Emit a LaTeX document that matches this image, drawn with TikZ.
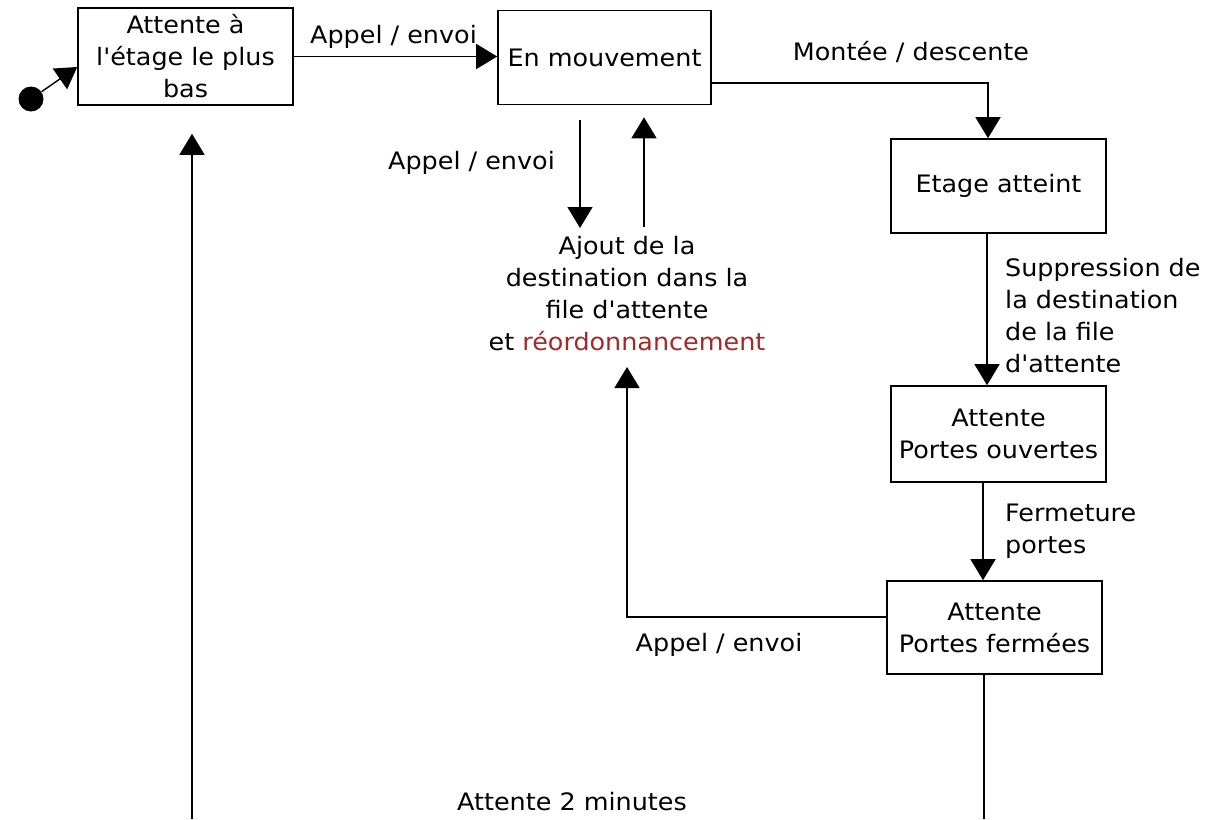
\documentclass[tikz,border=0pt]{standalone}
\usepackage{fontspec}
\newfontfamily\diagfont{DejaVu Sans}[FakeStretch=1.06]
\usetikzlibrary{arrows.meta,calc}
\definecolor{reorder}{RGB}{165,40,40}
\begin{document}
\begin{tikzpicture}[x=1pt,y=-1pt,
  every node/.style={font=\diagfont\fontsize{24}{32}\selectfont, inner sep=0pt},
  state/.style={draw, line width=1.6pt, align=center},
  arr/.style={line width=1.4pt, -{Triangle[length=21pt,width=25pt]}},
  link/.style={line width=1.4pt}
]
\fill[white] (0,0) rectangle (1214,819);
\useasboundingbox (0,0) rectangle (1214,819);

% states
\node[circle, fill=black, minimum size=25pt] (init) at (31,99) {};
\node[state, minimum width=215pt, minimum height=97pt] (b1) at (185.5,56.5) {Attente à\\l'étage le plus\\bas};
\node[state, minimum width=213pt, minimum height=94pt] (mv) at (604.5,57.5) {En mouvement};
\node[state, minimum width=215pt, minimum height=94pt] (ea) at (998.5,186) {Etage atteint};
\node[state, minimum width=215pt, minimum height=96pt] (po) at (998.5,434) {Attente\\Portes ouvertes};
\node[state, minimum width=215pt, minimum height=93pt] (pf) at (994.5,627.5) {Attente\\Portes fermées};
\node[align=center] (aj) at (627,293.5) {Ajout de la\\destination dans la\\file d'attente\\et \textcolor{reorder}{réordonnancement}};

% transition labels
\node (l1) at (393.5,37) {Appel / envoi};
\node (l2) at (911,52) {Montée / descente};
\node (l3) at (471.5,163) {Appel / envoi};
\node[align=left, anchor=west] (l4) at (1005,315.5) {Suppression de\\la destination\\de la file\\d'attente};
\node[align=left, anchor=west] (l5) at (1005,531.5) {Fermeture\\portes};
\node (l6) at (719,645) {Appel / envoi};
\node (l7) at (572,802) {Attente 2 minutes};

% loose ends at the lower edge
\coordinate (bl) at (192,819);
\coordinate (br) at (984,819);

% transitions
\draw[arr] (init) -- ([yshift=-10.5pt]b1.west);
\draw[arr] (b1.east) -- (b1.east -| mv.west);
\draw[arr] ([yshift=-25.5pt]mv.east) -| ([xshift=-10.5pt]ea.north);
\draw[arr] ($(mv.south)+(-24.5,15)$) -- ($(aj.center)+(-47,-65.5)$);
\draw[arr] ($(aj.center)+(17,-66.5)$) -- ($(mv.south)+(39.5,12)$);
\draw[arr] ([xshift=-11.5pt]ea.south) -- ([xshift=-11.5pt]po.north);
\draw[arr] ([xshift=-15.5pt]po.south) -- ([xshift=-11.5pt]pf.north);
\draw[arr] ([yshift=10.5pt]pf.west) -| ($(aj.center)+(0,73.5)$);
\draw[link] ([xshift=-10.5pt]pf.south) -- (br);
\draw[arr] (bl) -- ($(b1.south)+(6.5,28)$);
\end{tikzpicture}
\end{document}
